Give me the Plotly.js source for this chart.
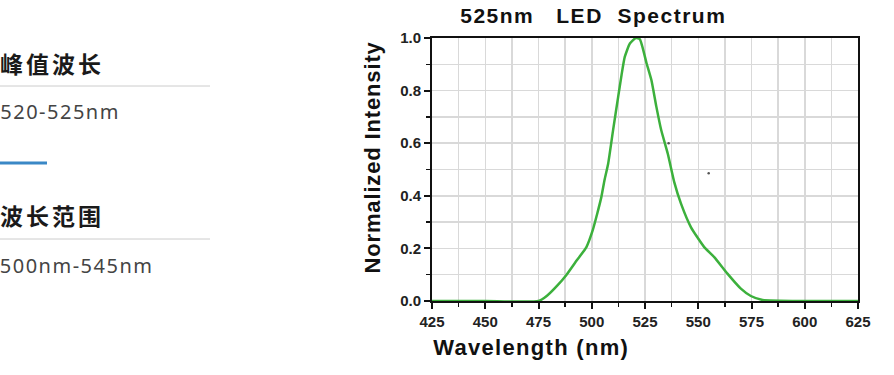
<!DOCTYPE html>
<html>
<head>
<meta charset="utf-8">
<script src="https://cdn.plot.ly/plotly-3.0.1.min.js"></script>
<style>html,body{margin:0;padding:0;background:#fff;}#chart{width:894px;height:375px;}</style>
</head>
<body>
<div id="chart"></div>
<script>
// ---- data ----
const wavelength = [425, 450, 475, 479, 484, 488, 493, 497.5, 500.5, 502.5, 504.5, 506, 507.7, 510, 512.4, 514, 515.5, 517.9, 520.7, 522.6, 525.7, 528, 530.3, 532.6, 535.7, 538.8, 541.9, 546.6, 552.8, 557.5, 563.7, 570, 574.7, 580.2, 600, 625];
const intensity  = [0, 0, 0, 0.02, 0.06, 0.098, 0.155, 0.205, 0.27, 0.33, 0.395, 0.46, 0.522, 0.649, 0.776, 0.86, 0.928, 0.979, 1.0, 0.995, 0.905, 0.84, 0.74, 0.65, 0.56, 0.45, 0.37, 0.28, 0.205, 0.167, 0.104, 0.047, 0.019, 0.004, 0, 0];
const strayX = [536.1, 554.9];
const strayY = [0.60, 0.486];
const xTicks = [425, 450, 475, 500, 525, 550, 575, 600, 625];
const yTicks = [0, 0.2, 0.4, 0.6, 0.8, 1.0];
const chartTitle = "525nm\u00a0\u00a0\u00a0LED\u00a0\u00a0Spectrum";
const xTitle = "Wavelength (nm)";
const yTitle = "Normalized Intensity";
const infoLabels = ["峰值波长", "波长范围"];
const infoValues = ["520-525nm", "500nm-545nm"];

// ---- layout helpers (pixel -> paper) ----
const L = 432, R = 36, T = 38, B = 74, W = 894, H = 375;
const pw = W - L - R, ph = H - T - B;
const px = x => (x - L) / pw;
const py = y => (H - B - y) / ph;

const gridCol = '#d9d9d9';
const arial = 'Liberation Sans, Arial, sans-serif';
const tickFont = {family: arial, size: 15, color: '#222', weight: 'bold'};

// letter spacing (px) per annotation, to match the wider reference text;
// Plotly centres annotation text, so extra width spreads both ways -> compensate by half
const sp = {title: 1.5, ytitle: 0.85, xtitle: 1.3, label: 3, value: 1.5};
const half = (str, s) => str.length * s / 2;

const traces = [
  {x: wavelength, y: intensity, type: 'scatter', mode: 'lines',
   line: {color: '#3cb03c', width: 2.5, shape: 'spline', smoothing: 0.5}, hoverinfo: 'skip'},
  {x: strayX, y: strayY, type: 'scatter', mode: 'markers',
   marker: {color: '#555', size: 2.5}, hoverinfo: 'skip'}
];

const layout = {
  width: W, height: H,
  margin: {l: L, r: R, t: T, b: B, pad: 0},
  paper_bgcolor: '#fff', plot_bgcolor: '#fff',
  showlegend: false,
  xaxis: {
    range: [425, 625], tickvals: xTicks, ticktext: xTicks.map(String),
    showline: true, linecolor: '#111', linewidth: 2, mirror: true,
    ticks: 'outside', ticklen: 6, tickwidth: 2, tickcolor: '#111',
    showgrid: true, gridcolor: gridCol, gridwidth: 1.5, zeroline: false,
    tickfont: tickFont, layer: 'below traces',
    minor: {dtick: 12.5, tick0: 425, ticks: 'outside', ticklen: 4, tickwidth: 1.5, tickcolor: '#111', showgrid: true, gridcolor: gridCol, gridwidth: 1.5}
  },
  yaxis: {
    range: [0, 1], tickvals: yTicks, ticktext: yTicks.map(v => v.toFixed(1)),
    showline: true, linecolor: '#111', linewidth: 2, mirror: true,
    ticks: 'outside', ticklen: 6, tickwidth: 2, tickcolor: '#111',
    showgrid: true, gridcolor: gridCol, gridwidth: 1.5, zeroline: false,
    tickfont: tickFont, layer: 'below traces',
    minor: {dtick: 0.1, tick0: 0, ticks: 'outside', ticklen: 4, tickwidth: 1.5, tickcolor: '#111', showgrid: true, gridcolor: gridCol, gridwidth: 1.5}
  },
  annotations: [
    {text: chartTitle, xref: 'paper', yref: 'paper', x: px(458 + half(chartTitle, sp.title)), y: py(15), xanchor: 'left', yanchor: 'middle', showarrow: false,
     font: {family: arial, size: 21, color: '#111', weight: 'bold'}},
    {text: yTitle, xref: 'paper', yref: 'paper', x: px(372), y: py(157), xanchor: 'center', yanchor: 'middle', textangle: -90, showarrow: false,
     font: {family: arial, size: 22, color: '#111', weight: 'bold'}},
    {text: xTitle, xref: 'paper', yref: 'paper', x: px(431 + half(xTitle, sp.xtitle)), y: py(347), xanchor: 'left', yanchor: 'middle', showarrow: false,
     font: {family: arial, size: 22, color: '#111', weight: 'bold'}},
    {text: infoLabels[0], xref: 'paper', yref: 'paper', x: px(-2 + half(infoLabels[0], sp.label)), y: py(63), xanchor: 'left', yanchor: 'middle', showarrow: false,
     font: {family: 'Noto Sans CJK SC', size: 23, color: '#1a1a1a', weight: 'bold'}},
    {text: infoValues[0], xref: 'paper', yref: 'paper', x: px(-2 + half(infoValues[0], sp.value)), y: py(112), xanchor: 'left', yanchor: 'middle', showarrow: false,
     font: {family: 'Noto Sans', size: 20, color: '#444'}},
    {text: infoLabels[1], xref: 'paper', yref: 'paper', x: px(-2 + half(infoLabels[1], sp.label)), y: py(215), xanchor: 'left', yanchor: 'middle', showarrow: false,
     font: {family: 'Noto Sans CJK SC', size: 23, color: '#1a1a1a', weight: 'bold'}},
    {text: infoValues[1], xref: 'paper', yref: 'paper', x: px(-2 + half(infoValues[1], sp.value)), y: py(265), xanchor: 'left', yanchor: 'middle', showarrow: false,
     font: {family: 'Noto Sans', size: 20, color: '#444'}}
  ],
  shapes: [
    {type: 'line', xref: 'paper', yref: 'paper', x0: px(0), x1: px(210), y0: py(86), y1: py(86), line: {color: '#cccccc', width: 1}},
    {type: 'line', xref: 'paper', yref: 'paper', x0: px(0), x1: px(47), y0: py(163), y1: py(163), line: {color: '#3a88c6', width: 3}},
    {type: 'line', xref: 'paper', yref: 'paper', x0: px(0), x1: px(210), y0: py(239), y1: py(239), line: {color: '#cccccc', width: 1}}
  ]
};

const spacing = [sp.title, sp.ytitle, sp.xtitle, sp.label, sp.value, sp.label, sp.value];

Plotly.newPlot('chart', traces, layout, {staticPlot: true, displayModeBar: false}).then(gd => {
  spacing.forEach((s, i) => {
    const t = gd.querySelector('.annotation[data-index="' + i + '"] text');
    if (t) t.style.letterSpacing = s + 'px';
  });
});
</script>
</body>
</html>
